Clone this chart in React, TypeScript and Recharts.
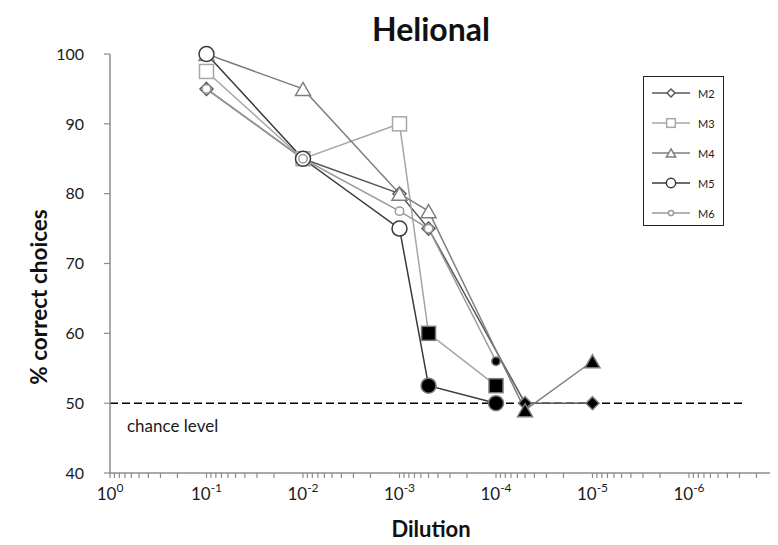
import { Line, LineChart, ReferenceLine, XAxis, YAxis } from "recharts";

// dilution steps tested (x), read left to right on the reversed log axis
const DILUTIONS = [1e-1, 1e-2, 1e-3, 5e-4, 1e-4, 5e-5, 1e-5];

// % correct choices per animal, null = not tested at that dilution
const M2 = [95, 85, 80, 75, null, 50, 50];
const M3 = [97.5, 85, 90, 60, 52.5, null, null];
const M4 = [100, 95, 80, 77.5, null, 49, 56];
const M5 = [100, 85, 75, 52.5, 50, null, null];
const M6 = [95, 85, 77.5, 75, 56, null, null];

// filled (black) markers = performance not different from chance
const M2_AT_CHANCE = [false, false, false, false, false, true, true];
const M3_AT_CHANCE = [false, false, false, true, true, false, false];
const M4_AT_CHANCE = [false, false, false, false, false, true, true];
const M5_AT_CHANCE = [false, false, false, true, true, false, false];
const M6_AT_CHANCE = [false, false, false, false, true, false, false];

const Y_TICKS = [40, 50, 60, 70, 80, 90, 100];
const X_MAJOR = [1, 1e-1, 1e-2, 1e-3, 1e-4, 1e-5, 1e-6, 1e-7];
const X_EXPONENTS = ["0", "-1", "-2", "-3", "-4", "-5", "-6"];
const X_DOMAIN: [number, number] = [1e-7, 1];
const CHANCE = 50;
const CHANCE_END = 2.8e-7;

const FONT = "Lato, 'Open Sans', sans-serif";

type Shape = "diamond" | "square" | "triangle" | "circle" | "smallCircle";

type SeriesDef = {
  key: string;
  label: string;
  values: (number | null)[];
  atChance: boolean[];
  color: string;
  shape: Shape;
};

const SERIES: SeriesDef[] = [
  { key: "m2", label: "M2", values: M2, atChance: M2_AT_CHANCE, color: "#595959", shape: "diamond" },
  { key: "m3", label: "M3", values: M3, atChance: M3_AT_CHANCE, color: "#a6a6a6", shape: "square" },
  { key: "m4", label: "M4", values: M4, atChance: M4_AT_CHANCE, color: "#7f7f7f", shape: "triangle" },
  { key: "m5", label: "M5", values: M5, atChance: M5_AT_CHANCE, color: "#3a3a3a", shape: "circle" },
  { key: "m6", label: "M6", values: M6, atChance: M6_AT_CHANCE, color: "#9a9a9a", shape: "smallCircle" },
];

const rows = DILUTIONS.map((x, i) => {
  const row: Record<string, number | null> = { x };
  for (const s of SERIES) {
    row[s.key] = s.values[i];
  }
  return row;
});

const minorTicks: number[] = [];
for (let k = 0; k < 7; k++) {
  for (let m = 2; m <= 9; m++) {
    minorTicks.push(m * Math.pow(10, -(k + 1)));
  }
}
const X_TICKS = [...X_MAJOR, ...minorTicks].sort((a, b) => b - a);

function drawMarker(shape: Shape, cx: number, cy: number, stroke: string, fill: string, scale = 1) {
  const sw = 1.5;
  if (shape === "diamond") {
    const r = 6.5 * scale;
    return (
      <polygon
        points={`${cx},${cy - r} ${cx + r},${cy} ${cx},${cy + r} ${cx - r},${cy}`}
        stroke={stroke}
        strokeWidth={sw}
        fill={fill}
      />
    );
  }
  if (shape === "square") {
    const h = 7 * scale;
    return <rect x={cx - h} y={cy - h} width={h * 2} height={h * 2} stroke={stroke} strokeWidth={sw} fill={fill} />;
  }
  if (shape === "triangle") {
    const w = 7.5 * scale;
    const h = 6.5 * scale;
    return (
      <polygon
        points={`${cx},${cy - h} ${cx + w},${cy + h} ${cx - w},${cy + h}`}
        stroke={stroke}
        strokeWidth={sw}
        fill={fill}
      />
    );
  }
  const r = (shape === "circle" ? 7.5 : 4.2) * scale;
  return <circle cx={cx} cy={cy} r={r} stroke={stroke} strokeWidth={sw} fill={fill} />;
}

function makeDot(series: SeriesDef) {
  return (props: any) => {
    const { cx, cy, index, value } = props;
    if (value == null || cx == null || cy == null) {
      return <g key={`${series.key}-dot-${index}`} />;
    }
    const filled = series.atChance[index];
    return (
      <g key={`${series.key}-dot-${index}`}>
        {drawMarker(series.shape, cx, cy, filled ? "#7a7a7a" : series.color, filled ? "#000" : "#fff")}
      </g>
    );
  };
}

function DilutionTick(props: any) {
  const { x, y, payload } = props;
  const exp = Math.log10(payload.value);
  const rounded = Math.round(exp);
  const major = Math.abs(exp - rounded) < 1e-6;
  const label = major ? X_EXPONENTS[-rounded] : undefined;
  return (
    <g>
      <line x1={x} y1={y} x2={x} y2={y + 5} stroke="#8c8c8c" strokeWidth={1.2} />
      {label != null && (
        <text x={x} y={y + 27} textAnchor="middle" fontSize={17} fill="#1a1a1a" fontFamily={FONT}>
          10
          <tspan dy={-8} fontSize={12}>
            {label}
          </tspan>
        </text>
      )}
    </g>
  );
}

function ChanceLabel(props: any) {
  const vb = props.viewBox ?? { x: 0, y: 0 };
  return (
    <text x={vb.x + 17} y={vb.y + 29} fontSize={17} fill="#1a1a1a" fontFamily={FONT}>
      chance level
    </text>
  );
}

function LegendBox() {
  return (
    <div
      style={{
        position: "absolute",
        left: 635,
        top: 68,
        width: 79,
        height: 148,
        border: "1.5px solid #222",
        background: "#fff",
        fontFamily: FONT,
        fontSize: 11,
        color: "#1a1a1a",
      }}
    >
      {SERIES.map((s, i) => (
        <div key={s.key} style={{ position: "absolute", left: 0, top: 6 + i * 30, height: 20, display: "flex", alignItems: "center" }}>
          <svg width={54} height={20} style={{ display: "block" }}>
            <line x1={8} y1={10} x2={46} y2={10} stroke={s.color} strokeWidth={1.5} />
            {drawMarker(s.shape, 27, 10, s.color, "#fff", 0.62)}
          </svg>
          <span>{s.label}</span>
        </div>
      ))}
    </div>
  );
}

export default function App() {
  return (
    <div style={{ position: "relative", width: 770, height: 537, overflow: "hidden", background: "#fff" }}>
      <LineChart width={790} height={537} data={rows} margin={{ top: 46, right: 12.5, bottom: 32, left: 40 }}>
        <XAxis
          dataKey="x"
          type="number"
          scale="log"
          domain={X_DOMAIN}
          allowDataOverflow
          reversed
          ticks={X_TICKS}
          interval={0}
          tickSize={0}
          tickMargin={0}
          tickLine={false}
          tick={(p: any) => <DilutionTick {...p} />}
          axisLine={{ stroke: "#8c8c8c", strokeWidth: 1.5 }}
          height={40}
        />
        <YAxis
          type="number"
          domain={[40, 100]}
          ticks={Y_TICKS}
          interval={0}
          width={62}
          tickSize={6}
          tickMargin={20}
          tickLine={{ stroke: "#8c8c8c", strokeWidth: 1.2 }}
          axisLine={{ stroke: "#8c8c8c", strokeWidth: 1.5 }}
          tick={{ fill: "#1a1a1a", fontSize: 16, fontFamily: FONT }}
        />
        <ReferenceLine
          segment={[
            { x: 1, y: CHANCE },
            { x: CHANCE_END, y: CHANCE },
          ]}
          stroke="#000"
          strokeWidth={1.5}
          strokeDasharray="8 4"
          label={(p: any) => <ChanceLabel {...p} />}
        />
        {SERIES.map((s) => (
          <Line
            key={s.key}
            dataKey={s.key}
            name={s.label}
            type="linear"
            stroke={s.color}
            strokeWidth={1.5}
            connectNulls
            dot={makeDot(s)}
            activeDot={false}
            isAnimationActive={false}
          />
        ))}
      </LineChart>
      <div
        style={{
          position: "absolute",
          left: 423,
          top: 20,
          transform: "translate(-50%, -50%)",
          fontFamily: FONT,
          fontWeight: 700,
          fontSize: 32,
          color: "#111",
          whiteSpace: "nowrap",
        }}
      >
        Helional
      </div>
      <div
        style={{
          position: "absolute",
          left: 30,
          top: 289,
          transform: "translate(-50%, -50%) rotate(-90deg)",
          fontFamily: FONT,
          fontWeight: 700,
          fontSize: 22.5,
          color: "#111",
          whiteSpace: "nowrap",
        }}
      >
        % correct choices
      </div>
      <div
        style={{
          position: "absolute",
          left: 423,
          top: 520,
          transform: "translate(-50%, -50%)",
          fontFamily: FONT,
          fontWeight: 700,
          fontSize: 22,
          color: "#111",
          whiteSpace: "nowrap",
        }}
      >
        Dilution
      </div>
      <LegendBox />
    </div>
  );
}
